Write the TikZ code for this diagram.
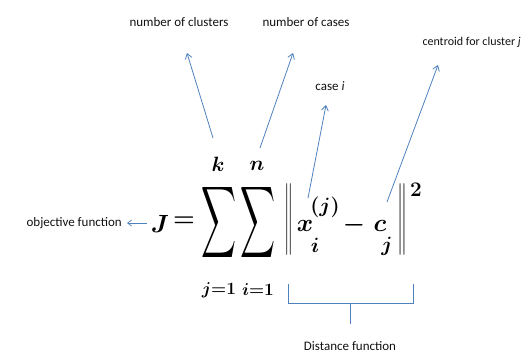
\documentclass[tikz,border=0pt]{standalone}
\usepackage{amsmath}
\usepackage{graphicx}
\usepackage{fontspec}
\setmainfont{Carlito}
\usetikzlibrary{arrows.meta}
\definecolor{arrowblue}{HTML}{4F81BD}
\definecolor{txt}{HTML}{111111}
\tikzset{
  lbl/.style={font=\fontsize{13}{15}\selectfont, text=txt, inner sep=0pt},
  mpart/.style={inner sep=0pt, text=black},
  conn/.style={draw=arrowblue, line width=0.8pt, -{Straight Barb[length=5pt,width=7pt]}},
  bracestyle/.style={draw=arrowblue, line width=0.9pt},
}
\begin{document}
\begin{tikzpicture}[x=1pt,y=-1pt]
\useasboundingbox (0,0) rectangle (524,353);
% formula pieces
\node[mpart, font=\fontsize{38}{40}\selectfont\boldmath] (J) at (160,224) {$J$};
\node[mpart, font=\fontsize{32}{34}\selectfont\boldmath] (eq) at (184,222) {$=$};
\node[mpart] (sumA) at (219.5,222) {\resizebox*{35pt}{80pt}{$\displaystyle\sum$}};
\node[mpart] (sumB) at (257.5,222) {\resizebox*{35pt}{80pt}{$\displaystyle\sum$}};
\node[mpart, font=\fontsize{21}{24}\selectfont\boldmath] (k) at (218,164) {$k$};
\node[mpart, font=\fontsize{21}{24}\selectfont\boldmath] (n) at (257,166) {$n$};
\node[mpart, font=\fontsize{19}{22}\selectfont\boldmath] (j1) at (219,290) {$j{=}1$};
\node[mpart, font=\fontsize{19}{22}\selectfont\boldmath] (i1) at (258,290) {$i{=}1$};
\node[mpart] (barL) at (289,219) {\resizebox*{9pt}{72pt}{$\|$}};
\node[mpart, font=\fontsize{40}{42}\selectfont\boldmath] (x) at (305,226) {$x$};
\node[mpart, font=\fontsize{20}{22}\selectfont\boldmath] (supj) at (325,207) {$(j)$};
\node[mpart, font=\fontsize{20}{22}\selectfont\boldmath] (subi) at (315,245) {$i$};
\node[mpart, font=\fontsize{32}{34}\selectfont\boldmath] (minus) at (354,225) {$-$};
\node[mpart, font=\fontsize{40}{42}\selectfont\boldmath] (c) at (380,226) {$c$};
\node[mpart, font=\fontsize{20}{22}\selectfont\boldmath] (subj) at (387,246) {$j$};
\node[mpart] (barR) at (402,219) {\resizebox*{10pt}{72pt}{$\|$}};
\node[mpart, font=\fontsize{22}{24}\selectfont\boldmath] (two) at (416,190) {$2$};
% labels
\node[lbl] (clusters) at (179,22) {number of clusters};
\node[lbl] (cases) at (306,22) {number of cases};
\node[lbl] (casei) at (330,86) {case \textit{i}};
\node[lbl, anchor=east, font=\fontsize{12}{14}\selectfont] (centroid) at (521,42) {centroid for cluster \textit{j}};
\node[lbl, anchor=east] (objective) at (122,223) {objective function};
\node[lbl] (distance) at (350,346) {Distance function};
% connectors
\coordinate (tK) at (213,138);
\coordinate (hK) at (187,53);
\coordinate (tN) at (260,148);
\coordinate (hN) at (293,53);
\coordinate (tX) at (308,198);
\coordinate (hX) at (326,105);
\coordinate (tC) at (387,202);
\coordinate (hC) at (438,65);
\coordinate (tJ) at (147,223);
\coordinate (hJ) at (127,223);
\draw[conn] (tK) -- (hK);
\draw[conn] (tN) -- (hN);
\draw[conn] (tX) -- (hX);
\draw[conn] (tC) -- (hC);
\draw[conn, line width=0.7pt, -{Straight Barb[length=4pt,width=6pt]}] (tJ) -- (hJ);
% brace
\coordinate (bl) at (288,284);
\coordinate (br) at (413,284);
\coordinate (bm) at (350,303);
\coordinate (bt) at (350,324);
\draw[bracestyle] (bl) -- (bl |- bm) -- (br |- bm) -- (br);
\draw[bracestyle] (bm) -- (bt);
\end{tikzpicture}
\end{document}
